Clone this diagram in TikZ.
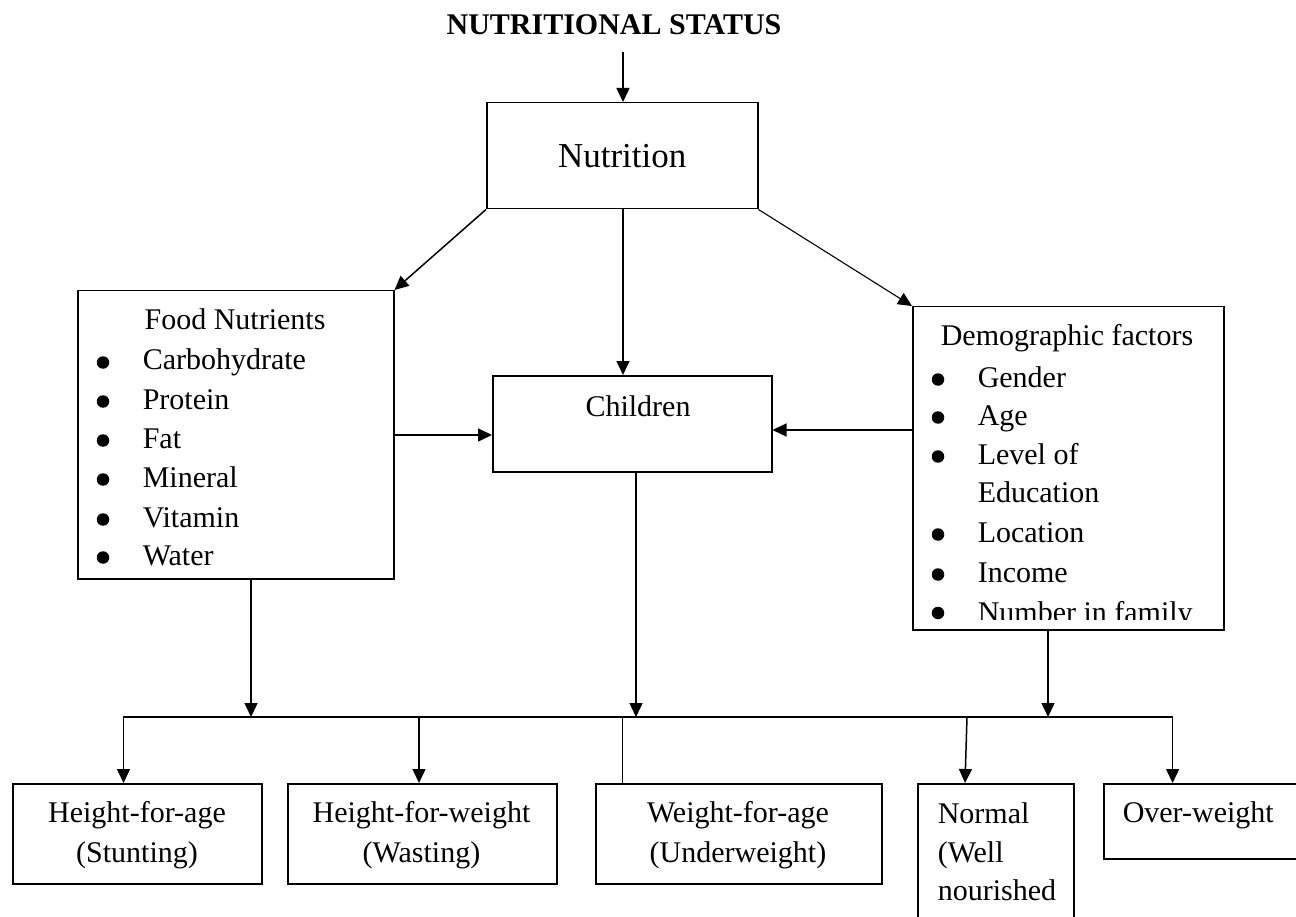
\documentclass[tikz,border=0pt]{standalone}
\usepackage{fontspec}
\setmainfont{Liberation Serif}
\usetikzlibrary{arrows.meta}
\begin{document}
\begin{tikzpicture}[x=1pt,y=-1pt,
  line width=1.5pt,
  arr/.style={-{Triangle[length=14pt,width=13pt]}},
  box/.style={draw,line width=1.5pt,inner sep=0pt,anchor=north west},
  txt/.style={inner sep=0pt,anchor=base,font=\fontsize{30}{36}\selectfont},
  ltxt/.style={txt,anchor=base west},
  bulletdot/.style={circle,fill,draw=none,inner sep=0pt,minimum size=12.5pt}]
\useasboundingbox (0,0) rectangle (1296,917);

% title and top box
\node[txt,font=\bfseries\fontsize{30}{36}\selectfont] (title) at (614,35) {NUTRITIONAL STATUS};
\node[box,minimum width=271pt,minimum height=106pt,font=\fontsize{35}{40}\selectfont] (nutr) at (486,102) {Nutrition};

% food nutrients
\node[box,minimum width=316pt,minimum height=288pt] (food) at (77,290) {};
\node[txt] (foodt) at (235,330) {Food Nutrients};
\foreach \t/\y in {Carbohydrate/370,Protein/409,Fat/448,Mineral/487,Vitamin/527,Water/565}{
  \node[bulletdot] at (103,\y-7.5) {};
  \node[ltxt] at (142,\y) {\t};
}

% children
\node[box,minimum width=279pt,minimum height=96pt] (children) at (492,375) {};
\node[txt] (childt) at (638,416) {Children};

% demographic factors
\node[box,minimum width=311pt,minimum height=323pt] (demo) at (912,306) {};
\node[txt] (demot) at (1067,345) {Demographic factors};
\foreach \t/\y in {Gender/387,Age/425,Level of/464,Location/542,Income/582}{
  \node[bulletdot] at (938,\y-7.5) {};
  \node[ltxt] at (977,\y) {\t};
}
\node[ltxt] at (977,502) {Education};
\begin{scope}
  \clip (913,307) rectangle (1222,619);
  \node[bulletdot] at (938,613) {};
  \node[ltxt] at (977,622) {Number in family};
\end{scope}

% bottom boxes
\node[box,minimum width=249pt,minimum height=100pt] (hfa) at (12,783) {};
\node[txt] at (137,822) {Height-for-age};
\node[txt] at (137,862) {(Stunting)};
\node[box,minimum width=269pt,minimum height=100pt] (hfw) at (287,783) {};
\node[txt] at (421.5,822) {Height-for-weight};
\node[txt] at (421.5,862) {(Wasting)};
\node[box,minimum width=286pt,minimum height=100pt] (wfa) at (595,783) {};
\node[txt] at (738,822) {Weight-for-age};
\node[txt] at (738,862) {(Underweight)};
\node[box,minimum width=156pt,minimum height=150pt] (normal) at (917,783) {};
\node[ltxt] at (937,823) {Normal};
\node[ltxt] at (937,862) {(Well};
\node[ltxt] at (937,900) {nourished};
\node[box,minimum width=210pt,minimum height=75pt] (over) at (1103,783) {};
\node[ltxt] at (1122,822) {Over-weight};

% connectors
\coordinate (t0) at (623,52);
\draw[arr] (t0) -- (t0 |- nutr.north);
\draw[arr] (nutr.south west) -- (food.north east);
\draw[arr,line width=1.1pt] (nutr.south east) -- (demo.north west);
\coordinate (c0) at (623,0);
\draw[arr] (nutr.south -| c0) -- (children.north -| c0);
\coordinate (fy) at (0,435);
\draw[arr] (food.east |- fy) -- (children.west |- fy);
\coordinate (dy) at (0,430);
\draw[arr] (demo.west |- dy) -- (children.east |- dy);

\coordinate (by) at (0,717);
\coordinate (x1) at (251,0);
\coordinate (x2) at (636,0);
\coordinate (x3) at (1048,0);
\draw[arr] (food.south -| x1) -- (x1 |- by);
\draw[arr] (children.south -| x2) -- (x2 |- by);
\draw[arr] (demo.south -| x3) -- (x3 |- by);

\coordinate (bl) at (123.5,717);
\coordinate (br) at (1172.6,717);
\draw[line cap=rect] (bl) -- (br);
\draw[arr] (bl) -- (bl |- hfa.north);
\coordinate (b2) at (419,717);
\draw[arr] (b2) -- (b2 |- hfw.north);
\coordinate (b3) at (622,717);
\draw[line width=1pt] (b3) -- (b3 |- wfa.north);
\coordinate (b4) at (967,717);
\coordinate (b4e) at (965,0);
\draw[arr] (b4) -- (b4e |- normal.north);
\draw[arr] (br) -- (br |- over.north);
\end{tikzpicture}
\end{document}
